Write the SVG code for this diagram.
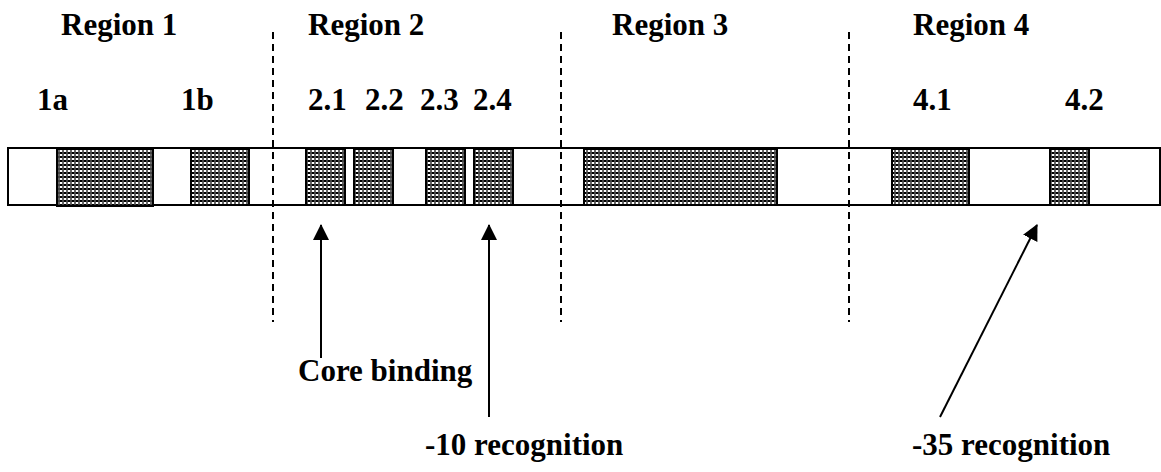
<svg xmlns="http://www.w3.org/2000/svg" width="1161" height="472" viewBox="0 0 1161 472">
  <style>
    text { font-family: "Liberation Serif", "Times New Roman", serif; font-weight: bold; font-size: 31px; fill: #000; }
    .seg { fill: url(#checker); stroke: #000; stroke-width: 2; }
    .divider { stroke: #000; stroke-width: 2; stroke-dasharray: 7 5; fill: none; }
    .arrow { stroke: #000; stroke-width: 2; fill: none; marker-end: url(#head); }
  </style>
  <defs>
    <pattern id="checker" width="4" height="4" patternUnits="userSpaceOnUse">
      <rect width="4" height="4" fill="#fff"/>
      <rect x="0" y="0" width="2" height="2" fill="#000"/>
      <rect x="2" y="2" width="2" height="2" fill="#666"/>
      <rect x="2" y="0" width="2" height="2" fill="#444"/>
    </pattern>
    <marker id="head" viewBox="0 0 16 16" refX="15" refY="8" markerWidth="16" markerHeight="16" markerUnits="userSpaceOnUse" orient="auto">
      <path d="M0,0 L16,8 L0,16 Z" fill="#000"/>
    </marker>
  </defs>

  <!-- protein chain -->
  <g id="chain">
    <rect x="8" y="148" width="1152" height="57" fill="#fff" stroke="#000" stroke-width="2"/>
  </g>

  <!-- conserved sub-regions -->
  <g id="seg-1a"><rect class="seg" x="57" y="149" width="96" height="57"/></g>
  <g id="seg-1b"><rect class="seg" x="191" y="149" width="58" height="56"/></g>
  <g id="seg-2-1"><rect class="seg" x="306" y="149" width="39" height="56"/></g>
  <g id="seg-2-2"><rect class="seg" x="354" y="149" width="39" height="56"/></g>
  <g id="seg-2-3"><rect class="seg" x="426" y="149" width="39" height="56"/></g>
  <g id="seg-2-4"><rect class="seg" x="474" y="149" width="39" height="56"/></g>
  <g id="seg-3"><rect class="seg" x="584" y="149" width="193" height="56"/></g>
  <g id="seg-4-1"><rect class="seg" x="892" y="149" width="77" height="56"/></g>
  <g id="seg-4-2"><rect class="seg" x="1050" y="149" width="39" height="56"/></g>

  <!-- region boundaries -->
  <g id="dividers">
    <line class="divider" x1="273" y1="32" x2="273" y2="322"/>
    <line class="divider" x1="561" y1="32" x2="561" y2="322"/>
    <line class="divider" x1="849" y1="32" x2="849" y2="322"/>
  </g>

  <!-- region and sub-region labels -->
  <g id="labels">
    <text x="61" y="35">Region 1</text>
    <text x="308" y="35">Region 2</text>
    <text x="612" y="35">Region 3</text>
    <text x="913" y="35">Region 4</text>
    <text x="37" y="110">1a</text>
    <text x="181" y="110">1b</text>
    <text x="308" y="110">2.1</text>
    <text x="365" y="110">2.2</text>
    <text x="420" y="110">2.3</text>
    <text x="473" y="110">2.4</text>
    <text x="913" y="110">4.1</text>
    <text x="1065" y="110">4.2</text>
  </g>

  <!-- functional annotations -->
  <g id="connectors">
    <line class="arrow" x1="321" y1="358" x2="321" y2="225"/>
    <line class="arrow" x1="489" y1="417" x2="489" y2="225"/>
    <line class="arrow" x1="940" y1="417" x2="1037" y2="225"/>
  </g>
  <g id="annotations">
    <text x="298" y="381">Core binding</text>
    <text x="425" y="455">-10 recognition</text>
    <text x="912" y="455">-35 recognition</text>
  </g>
</svg>
